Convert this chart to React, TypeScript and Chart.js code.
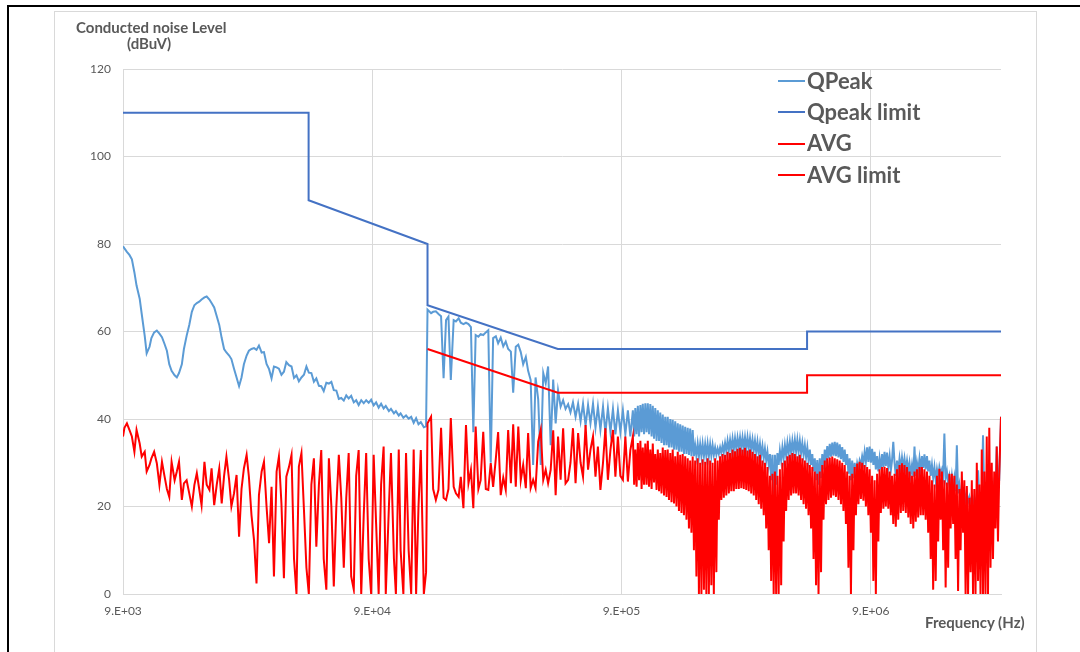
import React, { useEffect, useRef } from "react";
import { Chart, registerables } from "chart.js";

Chart.register(...registerables);

// ---- Measurement sweep frequencies (kHz) ----
const FREQ_KHZ_LOW = [
  9.0, 9.12, 9.33, 9.55, 9.77,
  10.0, 10.2, 10.5, 10.7, 11.0, 11.2, 11.5, 11.7, 12.0, 12.3,
  12.6, 12.9, 13.2, 13.5, 13.8, 14.1, 14.5, 14.8, 15.1, 15.5,
  15.8, 16.2, 16.6, 17.0, 17.4, 17.8, 18.2, 18.6, 19.1, 19.5,
  20.0, 20.4, 20.9, 21.4, 21.9, 22.4, 22.9, 23.4, 24.0, 24.5,
  25.1, 25.7, 26.3, 26.9, 27.5, 28.2, 28.8, 29.5, 30.2, 30.9,
  31.6, 32.4, 33.1, 33.9, 34.7, 35.5, 36.3, 37.2, 38.0, 38.9,
  39.8, 40.7, 41.7, 42.7, 43.7, 44.7, 45.7, 46.8, 47.9, 49.0,
  50.1, 51.3, 52.5, 53.7, 55.0, 56.2, 57.5, 58.9, 60.3, 61.7,
  63.1, 64.6, 66.1, 67.6, 69.2, 70.8, 72.4, 74.1, 75.9, 77.6,
  79.4, 81.3, 83.2, 85.1, 87.1, 89.1, 91.2, 93.3, 95.5, 97.7,
  100, 102, 105, 107, 110, 112, 115, 117, 120, 123,
  126, 129, 132, 135, 138, 141, 145, 148,
];
const FREQ_KHZ_MID = [
  150,
  155, 158, 162, 166, 170, 174, 178, 182, 186, 191,
  195, 200, 204, 209, 214, 219, 224, 229, 234, 240,
  245, 251, 257, 263, 269, 275, 282, 288, 295, 302,
  309, 316, 324, 331, 339, 347, 355, 363, 372, 380,
  389, 398, 407, 417, 427, 437, 447, 457, 468, 479,
  490, 501, 513, 525, 537, 550, 562, 575, 589, 603,
  617, 631, 646, 661, 676, 692, 708, 724, 741, 759,
  776, 794, 813, 832, 851, 871, 891, 912, 933, 955,
  977,
];
const FREQ_KHZ_HIGH = [
  1000, 1012, 1023, 1035, 1047, 1059, 1072, 1084, 1096, 1109,
  1122, 1135, 1148, 1161, 1175, 1189, 1202, 1216, 1230, 1245,
  1259, 1274, 1288, 1303, 1318, 1334, 1349, 1365, 1380, 1396,
  1413, 1429, 1445, 1462, 1479, 1496, 1514, 1531, 1549, 1567,
  1585, 1603, 1622, 1641, 1660, 1679, 1698, 1718, 1738, 1758,
  1778, 1799, 1820, 1841, 1862, 1884, 1905, 1928, 1950, 1972,
  1995, 2018, 2042, 2065, 2089, 2113, 2138, 2163, 2188, 2213,
  2239, 2265, 2291, 2317, 2344, 2371, 2399, 2427, 2455, 2483,
  2512, 2541, 2570, 2600, 2630, 2661, 2692, 2723, 2754, 2786,
  2818, 2851, 2884, 2917, 2951, 2985, 3020, 3055, 3090, 3126,
  3162, 3199, 3236, 3273, 3311, 3350, 3388, 3428, 3467, 3508,
  3548, 3589, 3631, 3673, 3715, 3758, 3802, 3846, 3890, 3936,
  3981, 4027, 4074, 4121, 4169, 4217, 4266, 4315, 4365, 4416,
  4467, 4519, 4571, 4624, 4677, 4732, 4786, 4842, 4898, 4955,
  5012, 5070, 5129, 5188, 5248, 5309, 5370, 5433, 5495, 5559,
  5623, 5689, 5754, 5821, 5888, 5957, 6026, 6095, 6166, 6237,
  6310, 6383, 6457, 6531, 6607, 6683, 6761, 6839, 6918, 6998,
  7079, 7161, 7244, 7328, 7413, 7499, 7586, 7674, 7762, 7852,
  7943, 8035, 8128, 8222, 8318, 8414, 8511, 8610, 8710, 8810,
  8913, 9016, 9120, 9226, 9333, 9441, 9550, 9661, 9772, 9886,
  10000, 10120, 10230, 10350, 10470, 10590, 10720, 10840, 10960, 11090,
  11220, 11350, 11480, 11610, 11750, 11890, 12020, 12160, 12300, 12450,
  12590, 12740, 12880, 13030, 13180, 13340, 13490, 13650, 13800, 13960,
  14130, 14290, 14450, 14620, 14790, 14960, 15140, 15310, 15490, 15670,
  15850, 16030, 16220, 16410, 16600, 16790, 16980, 17180, 17380, 17580,
  17780, 17990, 18200, 18410, 18620, 18840, 19050, 19280, 19500, 19720,
  19950, 20180, 20420, 20650, 20890, 21130, 21380, 21630, 21880, 22130,
  22390, 22650, 22910, 23170, 23440, 23710, 23990, 24270, 24550, 24830,
  25120, 25410, 25700, 26000, 26300, 26610, 26920, 27230, 27540, 27860,
  28180, 28510, 28840, 29170, 29510, 30000,
];

// ---- QPeak readings (dBuV) ----
const QPEAK_LOW = [
  79.5, 79, 78.2, 77.5, 76.5,
  73.5, 70.5, 67.5, 64, 59, 55, 56.5, 58.5, 59.8, 60.2,
  59.5, 58.7, 57.2, 55.6, 52.5, 51, 50, 49.5, 50.5, 52.5,
  56, 59, 61.5, 64.5, 66, 66.5, 66.8, 67.3, 67.8, 68,
  67.3, 66.5, 65.5, 63.5, 61.5, 58.5, 56, 55.2, 54.5, 53.7,
  51.5, 49.5, 47.5, 49.5, 52.5, 54.5, 55.6, 56, 56.2, 55.8,
  56.8, 55.2, 55.3, 52.6, 51.4, 49.3, 52, 51.8, 51.5, 50.1,
  50.8, 53, 52.3, 52, 49.4, 50, 48.6, 49.5, 50.1, 52,
  50.6, 50.5, 48.5, 49.3, 47.6, 47.5, 46.4, 48.3, 48.1, 48.5,
  46.6, 46.5, 44.6, 44.8, 44.2, 45.4, 44.7, 45.3, 43.8, 44.3,
  43.2, 44.3, 43.6, 44.3, 43.7, 44.4, 43.1, 43.8, 42.6, 43.5,
  42.4, 43, 41.8, 42.3, 41.3, 41.8, 40.8, 41.3, 40.3, 40.8,
  40.1, 40.5, 39.1, 40.2, 38.8, 39.3, 38.1, 38.3,
];
const QPEAK_MID = [
  65,
  64.2, 64.5, 64.6, 64, 63.5, 49.3, 62.6, 63.4, 48.9, 62.6,
  62.3, 63, 62, 61.7, 62, 61.7, 61, 37, 59.2, 58.8,
  59.4, 59.2, 59.8, 60.3, 30, 58.5, 58.9, 57.3, 58.6, 56.6,
  57.7, 56, 55.4, 46, 56.5, 57, 55.3, 52.5, 54.2, 51,
  48.9, 29.5, 49.5, 44.5, 29.5, 50.5, 48.2, 52, 34, 49,
  39, 46.5, 42.8, 44.3, 42.3, 43.4, 41.5, 43.8, 40.5, 43.5,
  39.5, 43.5, 38.5, 43.2, 39, 43.5, 38, 42.8, 37.5, 42.8,
  36.8, 42.5, 37, 42.3, 36.5, 42, 37, 42, 36.5, 42,
  36,
];
const QPEAK_HIGH = [
  42, 36, 42.5, 36.5, 43, 36, 43.2, 37, 43.5, 36.5,
  43.6, 37, 43.6, 36.5, 43.4, 36, 43, 35.5, 42.5, 35,
  42, 35, 41.5, 34.5, 41, 34, 40.5, 34, 40.5, 33.5,
  40, 33.5, 39.8, 33, 39.5, 33, 39, 32.5, 38.8, 32.5,
  38.5, 32, 38.2, 32, 38, 31.8, 37.8, 31.5, 37.5, 31.5,
  34, 31.5, 34.3, 31.5, 34.2, 31.5, 34.3, 31.5, 34.2, 31.5,
  34.3, 31.5, 34.2, 31.6, 34, 31.8, 33.5, 31.8, 33.2, 32,
  33.5, 32.2, 34, 32.4, 34.5, 32.6, 35, 32.8, 35.2, 33,
  35.5, 33, 35.6, 33.2, 35.7, 33.4, 35.8, 33.4, 35.8, 33.3,
  35.8, 33.3, 35.8, 33.2, 35.6, 33, 35.3, 32.7, 35, 32.3,
  34.8, 32, 34.3, 31.6, 33.8, 31, 33.2, 30.5, 32.5, 29.5,
  32, 26, 31.8, 19, 31.8, 25, 32.2, 29.5, 32.8, 30.5,
  33.5, 31, 34, 31.6, 34.5, 32, 34.8, 32.3, 35, 32.5,
  35.2, 32.5, 35.2, 32.4, 35, 32.2, 34.5, 31.8, 34, 31.2,
  33.5, 30.5, 33, 29.5, 32, 28, 31, 26, 30.6, 25,
  31, 26.5, 32, 28.5, 33, 30.5, 33.8, 31, 34.3, 31.4,
  34.6, 31.6, 34.8, 31.5, 34.6, 31.2, 34.2, 30.8, 33.6, 30.2,
  33, 29.5, 32, 27.5, 31, 26, 30.5, 26.5, 30, 27.5,
  29.9, 28.5, 30.5, 29.5, 31.5, 30, 32.5, 30.2, 33.5, 30.2,
  33.7, 30, 33.2, 29.5, 32.5, 28.5, 31.5, 28, 31, 28.5,
  32, 29, 32.5, 29.3, 32.3, 29, 31.5, 28.2, 30.5, 34.8,
  30, 27, 30.5, 28, 31, 28.6, 31.2, 28.8, 31, 28.5,
  30.5, 28, 30, 27.2, 29.5, 26.8, 33.7, 27, 30, 28,
  31, 28.5, 31.5, 28.8, 31.9, 28.5, 31.5, 28, 30.5, 27,
  29.5, 26.5, 29, 26, 28.5, 26.5, 29, 27.5, 28.5, 27,
  36.7, 26.5, 28, 25.5, 27, 24.5, 27, 24, 26.5, 23.5,
  34, 23, 25, 22.5, 24, 22, 23.5, 21.5, 23, 21,
  22.2, 20.5, 22.2, 20.2, 22, 20, 22.2, 28.3, 22, 20.2,
  22.2, 36.3, 22, 20.5, 24.5, 22, 24.5, 22.5, 25, 23,
  25.5, 24, 33.7, 25, 26, 40.5,
];

// ---- AVG readings (dBuV) ----
const AVG_LOW = [
  36, 38, 39, 37.5, 36,
  32.5, 37.5, 34.4, 31.4, 32.5, 28, 29.5, 31, 32.5, 29.9,
  24.9, 30.2, 27, 24, 22.2, 30.2, 26, 28, 30.2, 21.5,
  25.3, 26, 23, 20, 24.9, 27.6, 24, 20.3, 30.2, 25,
  23.8, 28.7, 20.3, 25, 28.7, 20.7, 27, 31.4, 26, 20,
  23, 27.2, 13.1, 24, 28.7, 31.8, 26.8, 18, 12.3, 2.4,
  22.6, 28, 30.2, 20, 11.6, 24.5, 4, 28, 31.4, 20.7,
  3.6, 26.8, 29, 31.8, 8, 0, 29.1, 32.2, 19.2, 6,
  0, 25, 31, 10.8, 25, 32.9, 8, 1, 31, 20,
  1.7, 20, 31.8, 22, 6, 22, 32.2, 4, 1, 27,
  32.9, 0, 18, 32.2, 8, 0, 31.8, 16, 0, 25,
  33.7, 0, 20, 32.2, 8, 0, 33, 10, 0, 32.2,
  10, 0, 33, 0, 20, 32.9, 0, 5,
];
const AVG_MID = [
  39,
  40.5, 24, 21.5, 23.8, 38, 22, 21.5, 24, 40.2, 24.5,
  23, 22.2, 26.8, 19.6, 38.6, 25.3, 28.4, 19.6, 38.3, 24,
  26, 37.1, 24, 23.8, 29.9, 24.5, 31, 37, 22.6, 26.6,
  23.8, 37.5, 25.3, 38.8, 24.5, 38.3, 26, 29.5, 24.2, 36.8,
  24.2, 26.1, 24.2, 34.8, 37.5, 26.1, 28.4, 25.3, 28.4, 37.4,
  22.6, 36, 26.1, 37.9, 25.3, 26.1, 30, 37.9, 25.3, 36.8,
  30, 26.8, 38.6, 28.4, 33, 36, 26.8, 33.7, 23.8, 30,
  37.9, 26.1, 33, 37.5, 26.8, 36, 27, 26.1, 36, 25.7,
  32.9,
];
const AVG_HIGH = [
  36, 25, 33, 24.5, 34.5, 26, 35, 24, 33.5, 25,
  34.4, 25, 35, 24.5, 33, 24, 34.4, 25.5, 32, 23.8,
  33, 23.5, 32.2, 23, 33.5, 22.5, 32.9, 22.2, 33, 21.5,
  32.2, 21, 33, 20.7, 31.5, 20, 32.5, 19, 31.8, 18.5,
  32, 18, 31.5, 17, 31, 15, 30.5, 14, 31.4, 10,
  30.5, 4, 31, 0, 30, 0, 30.8, 1, 30.2, 0,
  31, 0, 30.5, 2, 30, 0, 31, 5, 30.5, 17,
  31.5, 21.5, 32, 22, 31.8, 22.5, 32.5, 23, 32.2, 23.5,
  33, 23.5, 32.6, 24, 33.2, 24, 33.4, 24.2, 33, 24,
  33.4, 23.8, 32.8, 23.5, 33, 23, 32.5, 22.5, 32, 21.5,
  31.5, 20.5, 31.8, 19.5, 30.5, 18, 30, 15, 29, 10,
  27, 3, 27.5, 0, 28, 0, 27, 0, 28.5, 2,
  30, 12, 30.5, 19, 31.5, 21.5, 31.8, 22.5, 32.2, 23,
  32, 23, 31.5, 22.5, 31.8, 21.5, 31, 20.5, 30.5, 19.5,
  30, 18, 29.5, 15, 29, 8, 28, 2, 27.5, 0,
  28, 5, 29.5, 17, 30.5, 20.5, 31, 21.5, 31.2, 22,
  31.4, 22.5, 31, 22.2, 30.8, 21.5, 30.5, 20.5, 30, 19,
  29.5, 16, 28, 6, 27, 0, 27.5, 10, 29, 18,
  29.8, 20.5, 30.2, 21.7, 30, 21.3, 29.5, 20, 29, 18,
  28.5, 14, 27, 3, 26, 0, 27.5, 12, 28.5, 18.5,
  29, 19.5, 29.1, 20, 28.8, 19.5, 28, 18, 27, 16,
  27.5, 15.4, 28.5, 17, 29.5, 18.5, 29.9, 19, 29.5, 18.5,
  29, 17.5, 28, 16, 27, 15, 28, 16.5, 28.5, 17.5,
  29, 18, 29, 18, 28.5, 17, 28, 14, 27, 8,
  26, 1, 25, 3, 27, 12, 28.6, 17, 28, 10,
  26, 1.5, 25.5, 6, 27.5, 15, 27.5, 16, 27, 8,
  25, 0.7, 24, 10, 28, 14, 26, 0, 24.7, 0,
  22, 5, 26, 0, 24, 0, 30, 3, 25, 0,
  33, 0, 28, 0, 36, 0, 38, 6, 30, 8,
  28, 15, 33.7, 12, 27, 40.5,
];

// ---- Limit lines ----
const QP_LIMIT_FREQ_KHZ = [9, 50, 50, 150, 150, 500, 5000, 5000, 30000];
const QP_LIMIT = [110, 110, 90, 80, 66, 56, 56, 60, 60];
const AVG_LIMIT_FREQ_KHZ = [150, 500, 5000, 5000, 30000];
const AVG_LIMIT = [56, 46, 46, 50, 50];

// ---- Axes ----
const X_TICKS_HZ = [9e3, 9e4, 9e5, 9e6];
const Y_TICK_STEP = 20;
const LEGEND_LABELS = ["QPeak", "Qpeak limit", "AVG", "AVG limit"];
const COLORS = ["#5B9BD5", "#4472C4", "#FF0000", "#FF0000"];

const FREQ_KHZ = [...FREQ_KHZ_LOW, ...FREQ_KHZ_MID, ...FREQ_KHZ_HIGH];
const QPEAK = [...QPEAK_LOW, ...QPEAK_MID, ...QPEAK_HIGH];
const AVG = [...AVG_LOW, ...AVG_MID, ...AVG_HIGH];

const toPoints = (fk: number[], v: number[]) =>
  fk.map((f, i) => ({ x: f * 1000, y: v[i] }));

const fmtSci = (v: number) => {
  const e = Math.floor(Math.log10(v) + 1e-9);
  const m = Math.round(v / Math.pow(10, e));
  return `${m}.E+${String(e).padStart(2, "0")}`;
};

const GRAY = "#595959";
const GRID = "#d9d9d9";
const FONT = "Lato, 'Open Sans', sans-serif";

export default function App() {
  const ref = useRef<HTMLCanvasElement | null>(null);

  useEffect(() => {
    if (!ref.current) return;
    const chart = new Chart(ref.current, {
      type: "line",
      data: {
        datasets: [
          {
            label: LEGEND_LABELS[0],
            data: toPoints(FREQ_KHZ, QPEAK),
            borderColor: COLORS[0],
            borderWidth: 2,
            order: 4,
          },
          {
            label: LEGEND_LABELS[1],
            data: toPoints(QP_LIMIT_FREQ_KHZ, QP_LIMIT),
            borderColor: COLORS[1],
            borderWidth: 2,
            order: 3,
          },
          {
            label: LEGEND_LABELS[2],
            data: toPoints(FREQ_KHZ, AVG),
            borderColor: COLORS[2],
            borderWidth: 2,
            order: 2,
          },
          {
            label: LEGEND_LABELS[3],
            data: toPoints(AVG_LIMIT_FREQ_KHZ, AVG_LIMIT),
            borderColor: COLORS[3],
            borderWidth: 2,
            order: 1,
          },
        ],
      },
      options: {
        animation: false,
        responsive: false,
        maintainAspectRatio: false,
        devicePixelRatio: 1,
        layout: { padding: { left: 0, top: 69, right: 79, bottom: 0 } },
        elements: {
          point: { radius: 0, hoverRadius: 0 },
          line: { tension: 0, fill: false },
        },
        plugins: {
          legend: { display: false },
          tooltip: { enabled: false },
          title: { display: false },
        },
        scales: {
          x: {
            type: "logarithmic",
            min: 9000,
            max: 30000000,
            afterBuildTicks: (s: any) => {
              s.ticks = X_TICKS_HZ.map((v) => ({ value: v }));
            },
            afterFit: (s: any) => {
              s.height = 58;
            },
            grid: { color: GRID, lineWidth: 1, drawTicks: false },
            border: { color: GRID, width: 1 },
            ticks: {
              autoSkip: false,
              maxRotation: 0,
              padding: 10,
              color: GRAY,
              font: { family: FONT, size: 12 },
              callback: (v: any) => fmtSci(Number(v)),
            },
          },
          y: {
            type: "linear",
            min: 0,
            max: 120,
            afterFit: (s: any) => {
              s.width = 123;
            },
            grid: { color: GRID, lineWidth: 1, drawTicks: false },
            border: { color: GRID, width: 1 },
            ticks: {
              stepSize: Y_TICK_STEP,
              padding: 12,
              color: GRAY,
              font: { family: FONT, size: 12 },
            },
          },
        },
      },
    });
    return () => chart.destroy();
  }, []);

  const legendTop0 = 69.8;
  const legendStep = 31.3;

  const titleStyle: React.CSSProperties = {
    position: "absolute",
    fontSize: 15,
    lineHeight: "15px",
    fontWeight: 700,
    color: GRAY,
    whiteSpace: "nowrap",
  };

  return (
    <div
      style={{
        position: "fixed",
        left: 0,
        top: 0,
        width: 1080,
        height: 652,
        background: "#fff",
        overflow: "hidden",
        fontFamily: FONT,
      }}
    >
      <div
        style={{
          position: "absolute",
          left: 7,
          top: 5,
          width: 1200,
          height: 800,
          border: "2px solid #000",
          boxSizing: "border-box",
        }}
      />
      <div
        style={{
          position: "absolute",
          left: 54,
          top: 11,
          width: 983,
          height: 800,
          border: "1px solid #d9d9d9",
          boxSizing: "border-box",
        }}
      />
      <canvas
        ref={ref}
        width={1080}
        height={652}
        style={{ position: "absolute", left: 0, top: 0, width: 1080, height: 652 }}
      />
      <div style={{ ...titleStyle, left: 76, top: 20 }}>Conducted noise Level</div>
      <div style={{ ...titleStyle, left: 127, top: 36 }}>(dBuV)</div>
      <div style={{ ...titleStyle, left: 925, top: 615 }}>Frequency (Hz)</div>
      {LEGEND_LABELS.map((lab, i) => (
        <div key={lab}>
          <div
            style={{
              position: "absolute",
              left: 778,
              top: 81 + legendStep * i - 1,
              width: 27,
              height: 2,
              background: COLORS[i],
            }}
          />
          <div
            style={{
              position: "absolute",
              left: 807,
              top: legendTop0 + legendStep * i,
              fontSize: 22,
              lineHeight: "22px",
              fontWeight: 700,
              color: GRAY,
              whiteSpace: "nowrap",
            }}
          >
            {lab}
          </div>
        </div>
      ))}
    </div>
  );
}
